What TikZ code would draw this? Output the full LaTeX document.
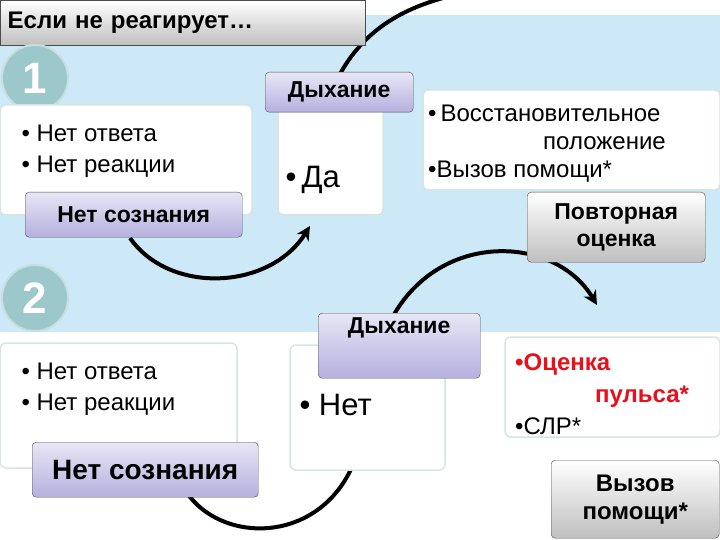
\documentclass[tikz,border=0pt]{standalone}
\usepackage{fontspec}
\setmainfont{Liberation Sans}
\usetikzlibrary{arrows.meta}
\definecolor{band}{HTML}{CDE9F7}
\definecolor{circ}{HTML}{9DC8CB}
\definecolor{circb}{HTML}{C5DFE0}
\definecolor{boxb}{HTML}{D4E6E4}
\definecolor{lavt}{HTML}{E8E6F6}
\definecolor{lavb}{HTML}{B5B0DE}
\definecolor{redt}{HTML}{E8101A}
\begin{document}
\begin{tikzpicture}[x=1pt,y=-1pt,
  wbox/.style={draw=boxb,line width=1.5pt,fill=white,rounded corners=6pt},
  lav/.style={draw=black!70,top color=lavt,bottom color=lavb,rounded corners=4pt,align=center,font=\bfseries},
  gray/.style={draw=black!70,top color=white,bottom color=black!25,rounded corners=4pt,align=center,font=\bfseries},
  num/.style={circle,fill=circ,draw=circb,line width=2pt,minimum size=66pt,text=white,font=\fontsize{44}{44}\selectfont\bfseries},
  arc/.style={line width=4pt,-{Stealth[length=14pt,width=14pt]}},
  txt/.style={anchor=west,font=\fontsize{24}{26}\selectfont}]
\useasboundingbox (0,0) rectangle (720,540);
\clip (0,0) rectangle (720,540);
\fill[band] (0,15) rectangle (720,332);
% arrows behind
\draw[line width=4pt] (340,74) .. controls (370,20) and (420,0) .. (480,-10);
\draw[arc] (130,238) .. controls (170,295) and (270,290) .. (310,226);
\draw[arc] (392,318) .. controls (440,230) and (555,235) .. (597,305);
\draw[arc] (185,490) .. controls (220,545) and (320,545) .. (357,455);
% title
\node[gray,rounded corners=0pt,minimum width=365pt,minimum height=45pt,anchor=north west,text width=350pt,align=left,font=\fontsize{24}{26}\selectfont\bfseries] (title) at (0,0) {Если не реагирует…};
% group 1
\node[num] (n1) at (35,78) {1};
\draw[wbox] (0,105) rectangle (252,215);
\node[txt] (a1) at (18,133) {•\ Нет ответа};
\node[txt] (a2) at (18,167) {•\ Нет реакции};
\node[lav,minimum width=217pt,minimum height=45pt,anchor=north west,font=\fontsize{23}{25}\selectfont\bfseries] (ns1) at (25,192) {Нет сознания};
\draw[wbox] (278,100) rectangle (383,215);
\node[txt,font=\fontsize{31}{32}\selectfont] (da) at (282,180) {•\,Да};
\node[lav,minimum width=148pt,minimum height=40pt,anchor=north west,font=\fontsize{23}{25}\selectfont\bfseries] (dy1) at (265,72) {Дыхание};
\draw[wbox] (423,90) rectangle (720,190);
\node[anchor=north west,align=left,font=\fontsize{24}{28}\selectfont,inner sep=0pt] (vp) at (428,105) {•\,Восстановительное\\\hspace*{115pt}положение\\•Вызов помощи*};
\node[gray,minimum width=178pt,minimum height=70pt,anchor=north west,font=\fontsize{23}{27}\selectfont\bfseries] (po) at (527,192) {Повторная\\оценка};
% group 2
\node[num] (n2) at (35,298) {2};
\draw[wbox] (0,343) rectangle (237,468);
\node[txt] (b1) at (18,371) {•\ Нет ответа};
\node[txt] (b2) at (18,405) {•\ Нет реакции};
\node[lav,minimum width=226pt,minimum height=55pt,anchor=north west,font=\fontsize{28}{30}\selectfont\bfseries] (ns2) at (32,442) {Нет сознания};
\draw[wbox] (290,345) rectangle (445,470);
\node[txt,font=\fontsize{31}{32}\selectfont] (net) at (296,405) {•\ Нет};
\node[lav,minimum width=162pt,minimum height=65pt,anchor=north west,font=\fontsize{23}{25}\selectfont\bfseries] (dy2) at (318,313) {Дыхание\\[16pt]};
\draw[wbox] (505,337) rectangle (720,437);
\node[anchor=north west,align=left,font=\fontsize{24}{32}\selectfont,inner sep=0pt] (op) at (515,354) {\textcolor{redt}{\bfseries•Оценка}\\\hspace*{80pt}\textcolor{redt}{\bfseries пульса*}\\•СЛР*};
\node[gray,minimum width=168pt,minimum height=78pt,anchor=north west,font=\fontsize{24}{28}\selectfont\bfseries] (vz) at (551,460) {Вызов\\помощи*};
\end{tikzpicture}
\end{document}
